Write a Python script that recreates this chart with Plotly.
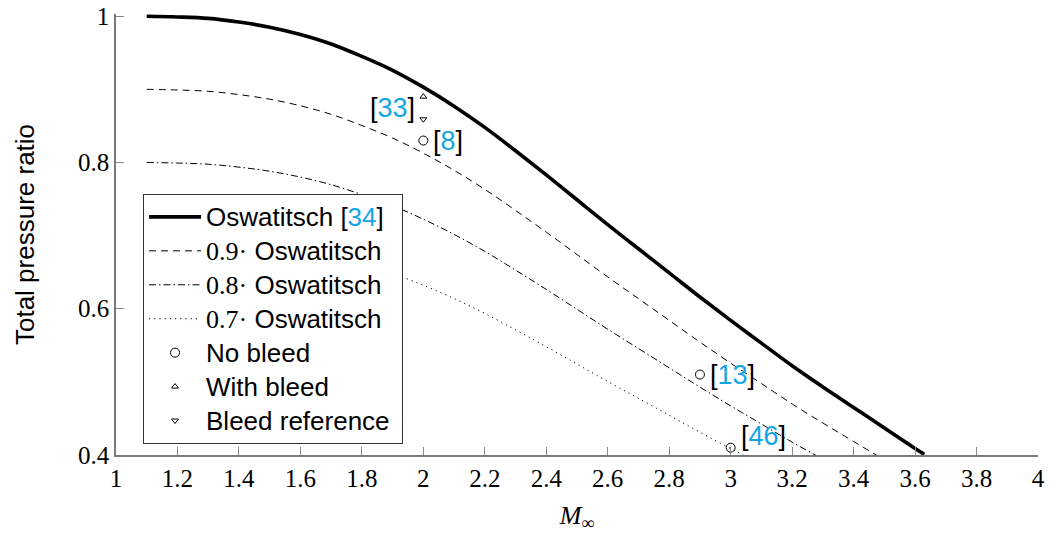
import plotly.graph_objects as go

# Optimum total pressure recovery (Oswatitsch) versus free-stream Mach number
mach = [1.10, 1.20, 1.30, 1.40, 1.50, 1.60, 1.70, 1.80, 1.90, 2.00, 2.10,
        2.20, 2.30, 2.40, 2.50, 2.60, 2.70, 2.80, 2.90, 3.00, 3.10, 3.20,
        3.30, 3.40, 3.50, 3.60, 3.63]
oswatitsch = [1.000, 0.999, 0.997, 0.992, 0.985, 0.975, 0.962, 0.945, 0.926,
              0.903, 0.877, 0.848, 0.816, 0.783, 0.749, 0.715, 0.682, 0.649,
              0.616, 0.584, 0.553, 0.522, 0.493, 0.465, 0.437, 0.409, 0.401]

# Scaled reference curves
scale_factors = [0.9, 0.8, 0.7]
scale_dashes = ["7px,5px", "7px,3px,1.5px,3px", "1.2px,4px"]

# Intake measurements from the literature
no_bleed_m = [2.0, 2.9, 3.0]
no_bleed_p = [0.83, 0.51, 0.41]
no_bleed_refs = ["8", "13", "46"]
with_bleed_m = [2.0]
with_bleed_p = [0.890]
bleed_ref_m = [2.0]
bleed_ref_p = [0.859]
bleed_ref_label = "33"

CYAN = "#13A6E6"
SANS = "Liberation Sans, Arial, sans-serif"
SERIF = "Liberation Serif, Times New Roman, serif"


def cite(num):
    return f"[<span style='color:{CYAN}'>{num}</span>]"


def big(text):
    # legend rows are spaced from the legend font size; the label itself is larger
    return f"<span style='font-size:26px'>{text}</span>"


fig = go.Figure()

fig.add_trace(go.Scatter(
    x=mach, y=oswatitsch, mode="lines", line_shape="spline",
    line=dict(color="black", width=3.6),
    name=big("Oswatitsch " + cite("34")),
))

for f, dash in zip(scale_factors, scale_dashes):
    fig.add_trace(go.Scatter(
        x=mach, y=[f * v for v in oswatitsch], mode="lines", line_shape="spline",
        line=dict(color="black", width=1, dash=dash),
        name=big(f"<span style='font-family:{SERIF}'>{f}·</span> Oswatitsch"),
    ))

fig.add_trace(go.Scatter(
    x=no_bleed_m, y=no_bleed_p, mode="markers", name=big("No bleed"),
    marker=dict(symbol="circle-open", size=9, color="black", line=dict(width=1)),
    cliponaxis=False,
))
fig.add_trace(go.Scatter(
    x=with_bleed_m, y=with_bleed_p, mode="markers", name=big("With bleed"),
    marker=dict(symbol="triangle-up-open", size=6, color="black", line=dict(width=1)),
))
fig.add_trace(go.Scatter(
    x=bleed_ref_m, y=bleed_ref_p, mode="markers",
    name=big("Bleed reference&nbsp;"),
    marker=dict(symbol="triangle-down-open", size=6, color="black", line=dict(width=1)),
))

# Citation labels next to the data points
for m, p, ref in zip(no_bleed_m, no_bleed_p, no_bleed_refs):
    dy = 0.016 if ref == "46" else 0.0
    fig.add_annotation(x=m, y=p + dy, text=cite(ref), showarrow=False,
                       xanchor="left", yanchor="middle", xshift=8,
                       font=dict(family=SANS, size=27, color="black"))
fig.add_annotation(x=bleed_ref_m[0], y=(with_bleed_p[0] + bleed_ref_p[0]) / 2,
                   text=cite(bleed_ref_label), showarrow=False,
                   xanchor="right", yanchor="middle", xshift=-6,
                   font=dict(family=SANS, size=27, color="black"))

axis_common = dict(
    showline=True, linecolor="#7a7a7a", linewidth=1.5,
    ticks="inside", ticklen=8, tickcolor="#8a8a8a", tickwidth=1,
    showgrid=False, zeroline=False, mirror=False, automargin=False,
    tickfont=dict(family=SERIF, size=25, color="black"),
)

fig.update_xaxes(
    range=[1, 4], tickvals=[1 + 0.2 * i for i in range(16)],
    ticktext=["1", "1.2", "1.4", "1.6", "1.8", "2", "2.2", "2.4", "2.6", "2.8",
              "3", "3.2", "3.4", "3.6", "3.8", "4"],
    title=dict(text="<i>M</i><sub>∞</sub>", font=dict(family=SERIF, size=26, color="black"),
               standoff=16),
    **axis_common,
)
fig.update_yaxes(
    range=[0.4, 1.003], tickvals=[0.4, 0.6, 0.8, 1.0],
    ticktext=["0.4", "0.6", "0.8", "1"],
    title=dict(text="Total pressure ratio", font=dict(family=SANS, size=26, color="black"),
               standoff=36),
    **axis_common,
)

fig.update_layout(
    width=1051, height=533,
    margin=dict(l=116, r=13, t=14, b=78),
    plot_bgcolor="white", paper_bgcolor="white",
    showlegend=True,
    legend=dict(
        x=0.0293, y=0.592, xanchor="left", yanchor="top",
        bgcolor="white", bordercolor="#333333", borderwidth=1,
        font=dict(family=SANS, size=23.8, color="black"),
        itemwidth=52, tracegroupgap=0,
    ),
)

fig.write_html("out.html")
